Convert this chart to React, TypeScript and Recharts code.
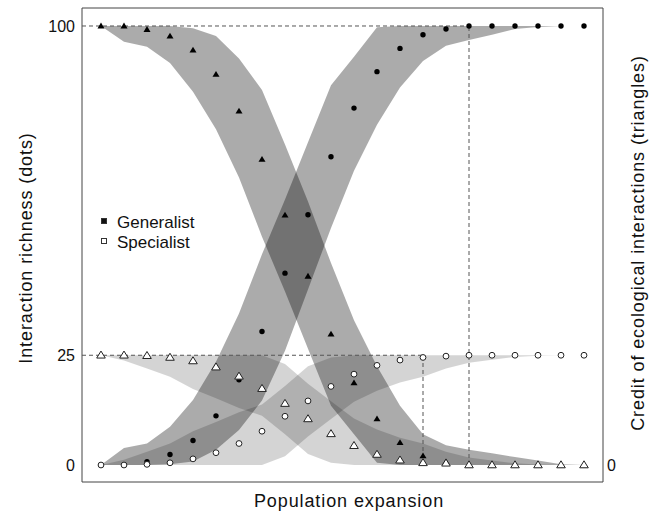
import React from 'react';
import {
    ComposedChart,
    Area,
    Scatter,
    XAxis,
    YAxis,
    ReferenceLine,
    ReferenceArea,
    Legend
} from 'recharts';

// x positions along the expansion gradient
const expansionSteps = [0, 1, 2, 3, 4, 5, 6, 7, 8, 9, 10, 11, 12, 13, 14, 15, 16, 17, 18, 19, 20, 21];

// observed points
const generalistRichness = [0, 0, 0.75, 2.4, 5.6, 11.2, 19.4, 30.4, 43.7, 57, 70.2, 81.3, 89.6, 94.9, 98, 99.3, 100, 100, 100, 100, 100, 100];
const generalistCredit = [100, 100, 99.2, 97.7, 94.5, 89, 80.6, 69.6, 56.9, 43, 29.8, 18.7, 10.5, 5.1, 2.1, 0.7, 0, 0, 0, 0, 0, 0];
const specialistRichness = [0, 0, 0.15, 0.5, 1.4, 2.8, 4.9, 7.7, 11.1, 14.6, 17.9, 20.7, 22.7, 23.9, 24.5, 24.8, 25, 25, 25, 25, 25, 25];
const specialistCredit = [25, 25, 24.9, 24.5, 23.7, 22.3, 20.2, 17.4, 14, 10.5, 7.1, 4.4, 2.4, 1.1, 0.5, 0.4, 0, 0, 0, 0, 0, 0];

// envelopes (low / high)
const generalistRichnessLow = [0, 0, 0, 0.2, 0.8, 3.5, 8, 14.7, 26, 40, 54, 67, 77.5, 86, 92, 95.5, 96.8, 98, 99.3, 99.8, 100, 100];
const generalistRichnessHigh = [0, 3.9, 4.9, 8.7, 14.8, 23.5, 34.5, 48, 60.5, 73.5, 86.5, 93, 99.7, 100, 100, 100, 100, 100, 100, 100, 100, 100];
const generalistCreditLow = [100, 96.4, 95.3, 91.6, 85, 76.5, 65.5, 52, 39.5, 26.5, 13.5, 7, 0.5, 0, 0, 0, 0, 0, 0, 0, 0, 0];
const generalistCreditHigh = [100, 100, 100, 100, 99.5, 97.7, 92.6, 85.4, 73, 60, 46, 33, 22.5, 13.5, 7, 4.5, 3.5, 2.7, 1.8, 1, 0.2, 0];
const specialistRichnessLow = [0, 0, 0, 0, 0, 0, 0, 0, 2, 6.5, 10.5, 14.4, 16.9, 18.8, 20.1, 22, 23.3, 24, 24.6, 24.9, 25, 25];
const specialistRichnessHigh = [0, 1.2, 3, 4.9, 7.7, 9.8, 12, 13.8, 18, 22.5, 24.5, 25, 25, 25, 25, 25, 25, 25, 25, 25, 25, 25];
const specialistCreditLow = [25, 23.8, 22, 20.1, 17.3, 15.2, 13, 11.2, 7, 2.5, 0.5, 0, 0, 0, 0, 0, 0, 0, 0, 0, 0, 0];
const specialistCreditHigh = [25, 25, 25, 25, 25, 25, 25, 25, 23, 18.5, 14.5, 10.6, 8.1, 6.2, 4.9, 3, 1.7, 1, 0.4, 0.1, 0, 0];

const leftTicks = [0, 25, 100];
const rightTicks = [0];
const generalistPlateauStep = 16;
const specialistPlateauStep = 14;
const xDomain: [number, number] = [-0.826, 21.826];
const yDomain: [number, number] = [-3.87, 104.1];

const legendItems = [
    { label: 'Generalist', filled: true },
    { label: 'Specialist', filled: false }
];

const rows = expansionSteps.map((step, i) => ({
    step,
    gDot: generalistRichness[i],
    gTri: generalistCredit[i],
    sDot: specialistRichness[i],
    sTri: specialistCredit[i],
    gDotBand: [generalistRichnessLow[i], generalistRichnessHigh[i]],
    gTriBand: [generalistCreditLow[i], generalistCreditHigh[i]],
    sDotBand: [specialistRichnessLow[i], specialistRichnessHigh[i]],
    sTriBand: [specialistCreditLow[i], specialistCreditHigh[i]]
}));

const FONT = '"Liberation Sans", Arial, Helvetica, sans-serif';

const filledDot = (p: any) => <circle cx={p.cx} cy={p.cy} r={2.7} fill="#000" />;
const openDot = (p: any) => <circle cx={p.cx} cy={p.cy} r={2.9} fill="#fff" stroke="#222" strokeWidth={1} />;
const filledTri = (p: any) => (
    <polygon
        points={`${p.cx},${p.cy - 3.4} ${p.cx - 3.5},${p.cy + 2.4} ${p.cx + 3.5},${p.cy + 2.4}`}
        fill="#000"
    />
);
const openTri = (p: any) => (
    <polygon
        points={`${p.cx},${p.cy - 4.2} ${p.cx - 4.3},${p.cy + 2.8} ${p.cx + 4.3},${p.cy + 2.8}`}
        fill="#fff"
        stroke="#222"
        strokeWidth={1}
    />
);

const AxisTitle = ({ px, py, rot, title }: any) => (
    <text
        x={px}
        y={py}
        transform={rot ? `rotate(${rot} ${px} ${py})` : undefined}
        textAnchor="middle"
        fontSize={18}
        letterSpacing={0.9}
        fill="#111"
        fontFamily={FONT}
    >
        {title}
    </text>
);

const LegendBox = () => (
    <div style={{ fontFamily: FONT, fontSize: 17, color: '#111', lineHeight: '20px' }}>
        {legendItems.map(item => (
            <div key={item.label} style={{ display: 'flex', alignItems: 'center', height: 20 }}>
                <span
                    style={{
                        display: 'inline-block',
                        width: 6,
                        height: 6,
                        boxSizing: 'border-box',
                        background: item.filled ? '#111' : '#fff',
                        border: '1px solid #333',
                        marginRight: 10,
                        position: 'relative',
                        top: -2
                    }}
                />
                <span>{item.label}</span>
            </div>
        ))}
    </div>
);

const dashed = { stroke: '#555', strokeWidth: 1, strokeDasharray: '4 3' };

export default function App() {
    return (
        <div style={{ position: 'absolute', left: 0, top: 0, background: '#fff' }}>
            <ComposedChart
                width={649}
                height={515}
                data={rows}
                margin={{ top: 8, right: 0, bottom: 0, left: 0 }}
                style={{ fontFamily: FONT }}
            >
                <XAxis
                    dataKey="step"
                    type="number"
                    domain={xDomain}
                    allowDataOverflow
                    tick={false}
                    axisLine={false}
                    tickLine={false}
                    height={33}
                    label={<AxisTitle px={349} py={507} title="Population expansion" />}
                />
                <YAxis
                    yAxisId="left"
                    type="number"
                    domain={yDomain}
                    allowDataOverflow
                    ticks={leftTicks}
                    width={82}
                    axisLine={false}
                    tickLine={false}
                    tickSize={0}
                    tickMargin={7}
                    tick={{ fontSize: 16, fill: '#111' }}
                    label={<AxisTitle px={32} py={248} rot={-90} title="Interaction richness (dots)" />}
                />
                <YAxis
                    yAxisId="right"
                    orientation="right"
                    type="number"
                    domain={yDomain}
                    allowDataOverflow
                    ticks={rightTicks}
                    width={46}
                    axisLine={false}
                    tickLine={false}
                    tickSize={0}
                    tickMargin={4}
                    tick={{ fontSize: 16, fill: '#111' }}
                    label={<AxisTitle px={644} py={243} rot={-90} title="Credit of ecological interactions (triangles)" />}
                />

                <Area yAxisId="left" type="linear" dataKey="sDotBand" stroke="none" fill="#000" fillOpacity={0.17} dot={false} activeDot={false} isAnimationActive={false} />
                <Area yAxisId="left" type="linear" dataKey="sTriBand" stroke="none" fill="#000" fillOpacity={0.17} dot={false} activeDot={false} isAnimationActive={false} />
                <Area yAxisId="left" type="linear" dataKey="gDotBand" stroke="none" fill="#000" fillOpacity={0.33} dot={false} activeDot={false} isAnimationActive={false} />
                <Area yAxisId="left" type="linear" dataKey="gTriBand" stroke="none" fill="#000" fillOpacity={0.33} dot={false} activeDot={false} isAnimationActive={false} />

                <ReferenceLine yAxisId="left" segment={[{ x: xDomain[0], y: 100 }, { x: generalistPlateauStep, y: 100 }]} {...dashed} />
                <ReferenceLine yAxisId="left" segment={[{ x: generalistPlateauStep, y: 0 }, { x: generalistPlateauStep, y: 100 }]} {...dashed} />
                <ReferenceLine yAxisId="left" segment={[{ x: xDomain[0], y: 25 }, { x: specialistPlateauStep, y: 25 }]} {...dashed} />
                <ReferenceLine yAxisId="left" segment={[{ x: specialistPlateauStep, y: 0 }, { x: specialistPlateauStep, y: 25 }]} {...dashed} />

                <Scatter yAxisId="left" dataKey="gDot" shape={filledDot} isAnimationActive={false} />
                <Scatter yAxisId="left" dataKey="gTri" shape={filledTri} isAnimationActive={false} />
                <Scatter yAxisId="left" dataKey="sDot" shape={openDot} isAnimationActive={false} />
                <Scatter yAxisId="left" dataKey="sTri" shape={openTri} isAnimationActive={false} />

                <ReferenceArea
                    yAxisId="left"
                    x1={xDomain[0]}
                    x2={xDomain[1]}
                    y1={yDomain[0]}
                    y2={yDomain[1]}
                    fill="none"
                    stroke="#444"
                    strokeWidth={1}
                    ifOverflow="visible"
                />

                <Legend
                    layout="vertical"
                    align="center"
                    verticalAlign="middle"
                    content={<LegendBox />}
                    wrapperStyle={{ left: 101, top: 213, width: 'auto', height: 'auto' }}
                />
            </ComposedChart>
        </div>
    );
}
